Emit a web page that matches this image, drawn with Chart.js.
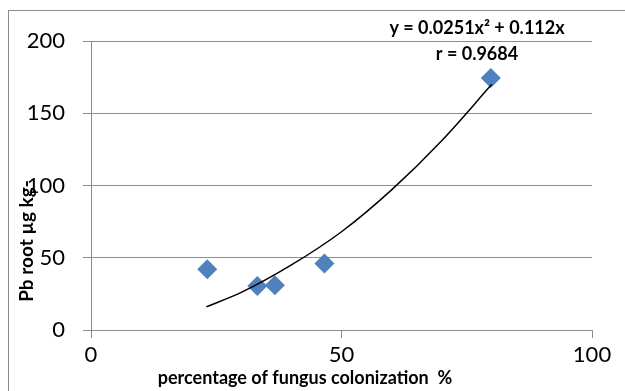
<!DOCTYPE html>
<html>
<head>
<meta charset="utf-8">
<script src="https://cdn.jsdelivr.net/npm/chart.js@4"></script>
<style>
  html, body { margin: 0; padding: 0; background: #fff; }
  #wrap { width: 625px; height: 391px; }
</style>
</head>
<body>
<div id="wrap"><canvas id="chart"></canvas></div>
<script>
// measured points
const colonization = [23.2, 33.2, 36.7, 46.6, 79.8];
const pbRoot = [42.0, 30.4, 31.0, 46.0, 174.4];

// trend curve
const trendX = [23, 30, 40, 50, 60, 70, 80];
const trendY = [16, 26, 45, 68, 97, 131, 170];

const xTicks = [0, 50, 100];
const yTicks = [0, 50, 100, 150, 200];

const equationText = "y = 0.0251x\u00B2 + 0.112x";
const rText = "r = 0.9684";
const xTitle = "percentage of fungus colonization  %";
const yTitle = "Pb root \u00B5g kg-";

const gridGray = "#8c8c8c";
const markerBlue = "#4f81bd";

function pairs(xs, ys) {
  return xs.map((x, i) => ({ x, y: ys[i] }));
}

const frameAndText = {
  id: "frameAndText",
  beforeDraw(chart) {
    const ctx = chart.ctx;
    ctx.save();
    ctx.fillStyle = "#fff";
    ctx.fillRect(0, 0, chart.width, chart.height);
    ctx.strokeStyle = gridGray;
    ctx.lineWidth = 1;
    ctx.strokeRect(8.5, 10.5, 900, 900);
    ctx.restore();
  },
  afterDraw(chart) {
    const ctx = chart.ctx;
    ctx.save();
    ctx.fillStyle = "#000";
    ctx.textAlign = "center";
    ctx.textBaseline = "middle";
    ctx.font = "bold 18px Lato";
    ctx.fillText(equationText, 477, 28);
    ctx.fillText(rText, 477, 54);
    ctx.fillText(xTitle, 305, 378);
    ctx.font = "bold 19px Lato";
    ctx.translate(27, 241);
    ctx.rotate(-Math.PI / 2);
    ctx.fillText(yTitle, 0, 0);
    ctx.restore();
  }
};

new Chart(document.getElementById("chart"), {
  type: "scatter",
  data: {
    datasets: [
      {
        type: "line",
        label: "trend",
        data: pairs(trendX, trendY),
        borderColor: "#000",
        borderWidth: 1.5,
        pointRadius: 0,
        fill: false,
        cubicInterpolationMode: "monotone",
        order: 0
      },
      {
        label: "Pb root",
        data: pairs(colonization, pbRoot),
        pointStyle: "rectRot",
        pointRadius: 10,
        pointBackgroundColor: markerBlue,
        pointBorderColor: markerBlue,
        pointBorderWidth: 0,
        order: 1
      }
    ]
  },
  options: {
    responsive: true,
    maintainAspectRatio: false,
    animation: false,
    layout: { padding: { top: 41, right: 33, left: 0, bottom: 0 } },
    plugins: { legend: { display: false }, tooltip: { enabled: false } },
    scales: {
      x: {
        type: "linear",
        min: 0,
        max: 100,
        afterBuildTicks: (s) => { s.ticks = xTicks.map((v) => ({ value: v })); },
        afterFit: (s) => { s.height = 61; },
        grid: { drawOnChartArea: false, drawTicks: true, tickLength: 8, color: gridGray },
        border: { display: true, color: gridGray },
        ticks: { color: "#000", font: { family: "Lato", size: 22 }, padding: 4, maxRotation: 0 }
      },
      y: {
        type: "linear",
        min: 0,
        max: 200,
        afterBuildTicks: (s) => { s.ticks = yTicks.map((v) => ({ value: v })); },
        afterFit: (s) => { s.width = 91; },
        grid: { drawOnChartArea: true, drawTicks: true, tickLength: 8, color: gridGray },
        border: { display: true, color: gridGray },
        ticks: { color: "#000", font: { family: "Lato", size: 22 }, padding: 18 }
      }
    }
  },
  plugins: [frameAndText]
});
</script>
</body>
</html>
